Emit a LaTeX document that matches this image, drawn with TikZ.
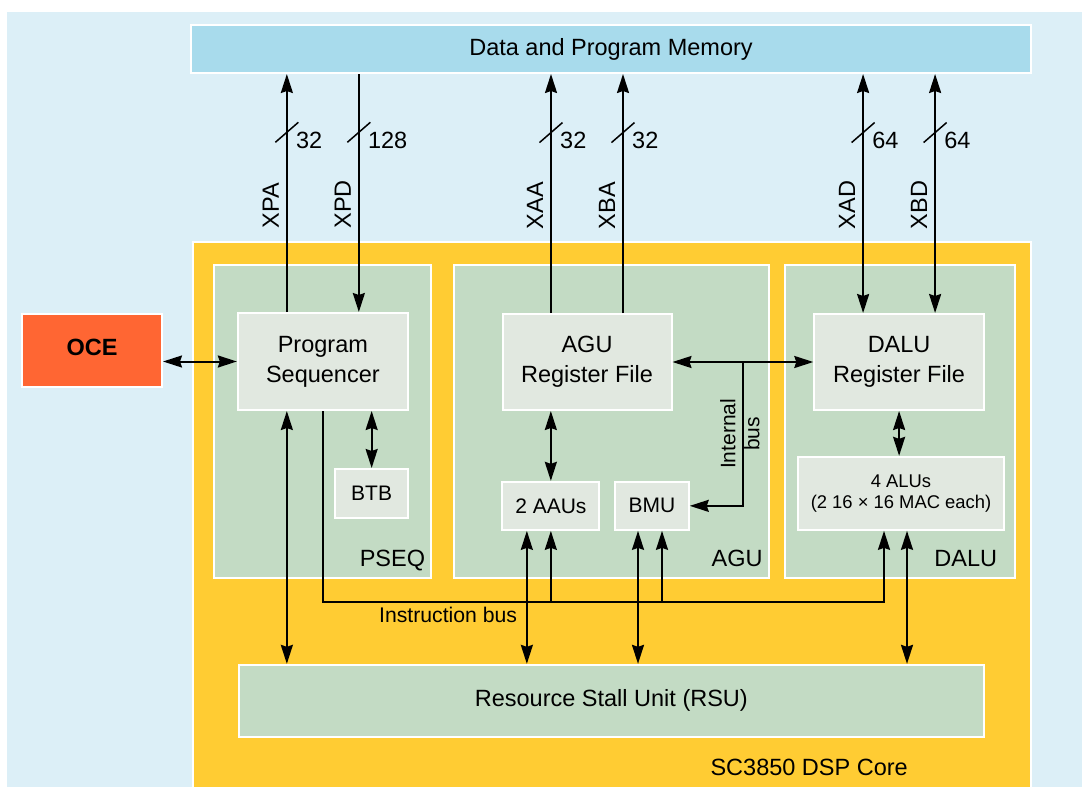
\documentclass[tikz,border=0pt]{standalone}
\usepackage{fontspec}
\setmainfont{Liberation Sans}
\usetikzlibrary{calc}
\usetikzlibrary{arrows.meta}
\usetikzlibrary{positioning}
\definecolor{custom-sky}{RGB}{220, 239, 247}
\definecolor{custom-memory}{RGB}{168, 219, 236}
\definecolor{custom-yellow}{RGB}{255, 204, 51}
\definecolor{custom-green}{RGB}{195, 219, 196}
\definecolor{custom-gray}{RGB}{225, 232, 224}
\definecolor{custom-orange}{RGB}{255, 102, 51}
\tikzset{
  block/.style={draw=white, line width=2pt, inner sep=0pt, align=center,
    font=\fontsize{23.5}{30}\selectfont},
  unitbox/.style={block, fill=custom-gray},
  groupbox/.style={block, fill=custom-green},
  tag/.style={inner sep=0pt, font=\fontsize{23.5}{30}\selectfont},
  wire/.style={line width=2pt},
  slash/.style={line width=1.5pt},
}

\begin{document}
\begin{tikzpicture}[x=1pt, y=-1pt, >={Stealth[length=19pt, width=12pt, inset=2pt]}]
\useasboundingbox (0,0) rectangle (1082,787);
\fill[custom-sky] (7,12) rectangle (1082,787);
\draw[draw=white, line width=2pt, fill=custom-yellow] (193,242) rectangle (1031,792);
\coordinate (ib) at (0,601.7);
% memory and debug
\node[block, fill=custom-memory, minimum width=840pt, minimum height=48pt] (mem) at (611,49) {Data and Program Memory};
\node[block, fill=custom-orange, minimum width=140pt, minimum height=73pt, font=\bfseries\fontsize{23.5}{30}\selectfont] (oce) at (92,350) {OCE\rule[-6pt]{0pt}{6pt}};
% sections
\node[groupbox, minimum width=217pt, minimum height=313pt] (pseq) at (322.75,421.5) {};
\node[groupbox, minimum width=315pt, minimum height=313pt] (agu) at (611.75,421.5) {};
\node[groupbox, minimum width=230pt, minimum height=313pt] (dalu) at (900.25,421.5) {};
\node[groupbox, minimum width=745pt, minimum height=72pt] (rsu) at (611.35,700.85) {Resource Stall Unit (RSU)};
\node[tag, anchor=base east] (pseq-name) at ([shift={(-7,-13)}]pseq.south east) {PSEQ};
\node[tag, anchor=base east] (agu-name) at ([shift={(-7.5,-13)}]agu.south east) {AGU};
\node[tag, anchor=base east] (dalu-name) at ([shift={(-19,-13)}]dalu.south east) {DALU};
\node[tag, anchor=base east] (core-name) at (908,775) {SC3850 DSP Core};
% units
\node[unitbox, minimum width=170pt, minimum height=97pt] (ps) at (322.85,361.5) {Program\\Sequencer};
\node[unitbox, minimum width=73pt, minimum height=49pt, font=\fontsize{21}{26}\selectfont] (btb) at (371.65,493.5) {BTB};
\node[unitbox, minimum width=169pt, minimum height=96pt] (agurf) at (587,362) {AGU\\Register File};
\node[unitbox, minimum width=97pt, minimum height=48pt, font=\fontsize{21}{26}\selectfont] (aau) at (550.85,505.85) {2 AAUs};
\node[unitbox, minimum width=73.5pt, minimum height=48pt, font=\fontsize{21}{26}\selectfont] (bmu) at (652,505.85) {BMU};
\node[unitbox, minimum width=169.6pt, minimum height=96pt] (dalurf) at (899.1,362) {DALU\\Register File};
\node[unitbox, minimum width=205.5pt, minimum height=73pt, font=\fontsize{18.4}{21}\selectfont] (alu) at (901,493.35) {4 ALUs\\(2 16 × 16 MAC each)};
% buses to memory
\draw[->, wire] ([xshift=-36]ps.north) -- coordinate[pos=.35] (xpa-l) coordinate[pos=.755] (xpa-s) ([xshift=-36]ps.north |- mem.south);
\draw[<-, wire] ([xshift=36]ps.north) -- coordinate[pos=.35] (xpd-l) coordinate[pos=.755] (xpd-s) ([xshift=36]ps.north |- mem.south);
\draw[->, wire] ([xshift=-36]agurf.north) -- coordinate[pos=.35] (xaa-l) coordinate[pos=.755] (xaa-s) ([xshift=-36]agurf.north |- mem.south);
\draw[->, wire] ([xshift=36]agurf.north) -- coordinate[pos=.35] (xba-l) coordinate[pos=.755] (xba-s) ([xshift=36]agurf.north |- mem.south);
\draw[<->, wire] ([xshift=-36]dalurf.north) -- coordinate[pos=.35] (xad-l) coordinate[pos=.755] (xad-s) ([xshift=-36]dalurf.north |- mem.south);
\draw[<->, wire] ([xshift=36]dalurf.north) -- coordinate[pos=.35] (xbd-l) coordinate[pos=.755] (xbd-s) ([xshift=36]dalurf.north |- mem.south);
\draw[slash] ([shift={(-11.5,10)}]xpa-s) -- ([shift={(11.5,-10)}]xpa-s);
\draw[slash] ([shift={(-11.5,10)}]xpd-s) -- ([shift={(11.5,-10)}]xpd-s);
\draw[slash] ([shift={(-11.5,10)}]xaa-s) -- ([shift={(11.5,-10)}]xaa-s);
\draw[slash] ([shift={(-11.5,10)}]xba-s) -- ([shift={(11.5,-10)}]xba-s);
\draw[slash] ([shift={(-11.5,10)}]xad-s) -- ([shift={(11.5,-10)}]xad-s);
\draw[slash] ([shift={(-11.5,10)}]xbd-s) -- ([shift={(11.5,-10)}]xbd-s);
\node[tag, anchor=west] (xpa-w) at ([shift={(9,8)}]xpa-s) {32};
\node[tag, anchor=west] (xpd-w) at ([shift={(9,8)}]xpd-s) {128};
\node[tag, anchor=west] (xaa-w) at ([shift={(9,8)}]xaa-s) {32};
\node[tag, anchor=west] (xba-w) at ([shift={(9,8)}]xba-s) {32};
\node[tag, anchor=west] (xad-w) at ([shift={(9,8)}]xad-s) {64};
\node[tag, anchor=west] (xbd-w) at ([shift={(9,8)}]xbd-s) {64};
\node[tag, rotate=90, anchor=base west] (xpa-n) at ([xshift=-8]xpa-l) {XPA};
\node[tag, rotate=90, anchor=base west] (xpd-n) at ([xshift=-8]xpd-l) {XPD};
\node[tag, rotate=90, anchor=base west] (xaa-n) at ([xshift=-8]xaa-l) {XAA};
\node[tag, rotate=90, anchor=base west] (xba-n) at ([xshift=-8]xba-l) {XBA};
\node[tag, rotate=90, anchor=base west] (xad-n) at ([xshift=-8]xad-l) {XAD};
\node[tag, rotate=90, anchor=base west] (xbd-n) at ([xshift=-8]xbd-l) {XBD};
% links inside the core
\draw[<->, wire] (ps.west) -- (ps.west -| oce.east);
\draw[<->, wire] (btb.north) -- (btb.north |- ps.south);
\draw[<->, wire] (aau.north) -- (aau.north |- agurf.south);
\draw[<->, wire] (dalurf.south) -- (dalurf.south |- alu.north);
\draw[<->, wire] (agurf.east) -- (dalurf.west);
\draw[->, wire] ($(agurf.east)!.5!(dalurf.west)$) |- node[tag, pos=.25, xshift=-3pt, rotate=90, align=center, font=\fontsize{21}{24}\selectfont] (ibus-name) {Internal\\bus} (bmu.east);
% instruction bus
\draw[->, wire] (ps.south) |- ([xshift=-17]alu.south |- ib) -- ([xshift=-17]alu.south);
\draw[->, wire] (aau.south |- ib) -- (aau.south);
\draw[->, wire] ([xshift=10]bmu.south |- ib) -- ([xshift=10]bmu.south);
\node[tag, anchor=base west, font=\fontsize{21.2}{24}\selectfont] (ib-name) at (379,622.7) {Instruction bus};
% stall unit
\draw[<->, wire] ([xshift=-36]ps.south) -- ([xshift=-36]ps.south |- rsu.north);
\draw[<->, wire] ([xshift=-24]aau.south) -- ([xshift=-24]aau.south |- rsu.north);
\draw[<->, wire] ([xshift=-14]bmu.south) -- ([xshift=-14]bmu.south |- rsu.north);
\draw[<->, wire] ([xshift=6]alu.south) -- ([xshift=6]alu.south |- rsu.north);
\end{tikzpicture}
\end{document}
